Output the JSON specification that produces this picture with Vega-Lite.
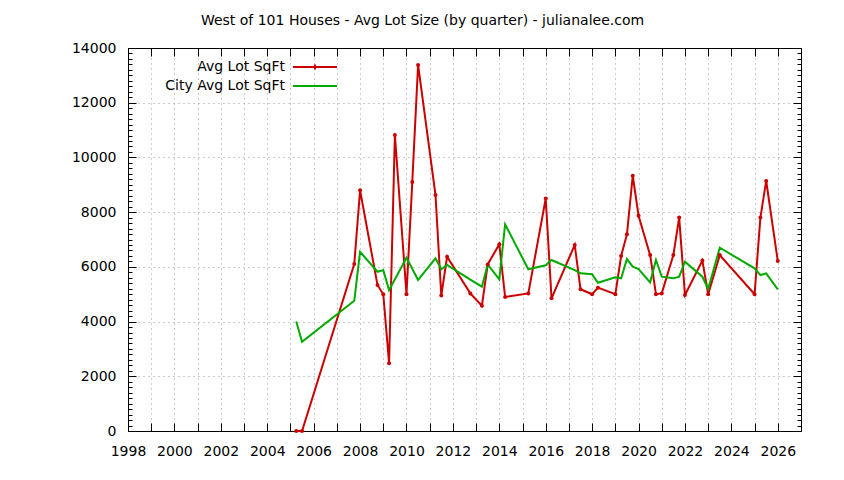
{
  "$schema": "https://vega.github.io/schema/vega-lite/v6.json",
  "width": 673,
  "height": 383,
  "autosize": {"type": "none"},
  "padding": {"left": 128, "top": 48, "right": 43, "bottom": 49},
  "background": "white",
  "title": {
    "text": "West of 101 Houses - Avg Lot Size (by quarter) - julianalee.com",
    "font": "DejaVu Sans",
    "fontSize": 14,
    "fontWeight": "normal",
    "color": "black",
    "anchor": "middle",
    "baseline": "alphabetic",
    "dx": -42,
    "offset": 2
  },
  "config": {
    "view": {"stroke": null},
    "font": "DejaVu Sans",
    "axis": {
      "labelFont": "DejaVu Sans",
      "labelFontSize": 14,
      "labelColor": "black",
      "domainColor": "black",
      "domainWidth": 1,
      "tickColor": "black",
      "tickWidth": 1,
      "gridColor": "#999999",
      "gridDash": [1, 4],
      "gridWidth": 1,
      "title": null,
      "labelOverlap": false,
      "labelFlush": false
    }
  },
  "data": {
    "values": [
      {"t": 2005.25, "series": "Avg Lot SqFt", "v": 0},
      {"t": 2005.5, "series": "Avg Lot SqFt", "v": 0},
      {"t": 2007.75, "series": "Avg Lot SqFt", "v": 6100},
      {"t": 2008, "series": "Avg Lot SqFt", "v": 8800},
      {"t": 2008.75, "series": "Avg Lot SqFt", "v": 5340},
      {"t": 2009, "series": "Avg Lot SqFt", "v": 5000},
      {"t": 2009.25, "series": "Avg Lot SqFt", "v": 2480},
      {"t": 2009.5, "series": "Avg Lot SqFt", "v": 10820},
      {"t": 2010, "series": "Avg Lot SqFt", "v": 5000},
      {"t": 2010.25, "series": "Avg Lot SqFt", "v": 9100},
      {"t": 2010.5, "series": "Avg Lot SqFt", "v": 13380},
      {"t": 2011.25, "series": "Avg Lot SqFt", "v": 8630},
      {"t": 2011.5, "series": "Avg Lot SqFt", "v": 4950},
      {"t": 2011.75, "series": "Avg Lot SqFt", "v": 6370},
      {"t": 2012.75, "series": "Avg Lot SqFt", "v": 5030},
      {"t": 2013.25, "series": "Avg Lot SqFt", "v": 4580},
      {"t": 2013.5, "series": "Avg Lot SqFt", "v": 6090},
      {"t": 2014, "series": "Avg Lot SqFt", "v": 6830},
      {"t": 2014.25, "series": "Avg Lot SqFt", "v": 4900},
      {"t": 2015.25, "series": "Avg Lot SqFt", "v": 5030},
      {"t": 2016, "series": "Avg Lot SqFt", "v": 8500},
      {"t": 2016.25, "series": "Avg Lot SqFt", "v": 4850},
      {"t": 2017.25, "series": "Avg Lot SqFt", "v": 6800},
      {"t": 2017.5, "series": "Avg Lot SqFt", "v": 5180},
      {"t": 2018, "series": "Avg Lot SqFt", "v": 5000},
      {"t": 2018.25, "series": "Avg Lot SqFt", "v": 5240},
      {"t": 2019, "series": "Avg Lot SqFt", "v": 5000},
      {"t": 2019.25, "series": "Avg Lot SqFt", "v": 6400},
      {"t": 2019.5, "series": "Avg Lot SqFt", "v": 7190},
      {"t": 2019.75, "series": "Avg Lot SqFt", "v": 9330},
      {"t": 2020, "series": "Avg Lot SqFt", "v": 7870},
      {"t": 2020.5, "series": "Avg Lot SqFt", "v": 6430},
      {"t": 2020.75, "series": "Avg Lot SqFt", "v": 5000},
      {"t": 2021, "series": "Avg Lot SqFt", "v": 5030},
      {"t": 2021.5, "series": "Avg Lot SqFt", "v": 6430},
      {"t": 2021.75, "series": "Avg Lot SqFt", "v": 7800},
      {"t": 2022, "series": "Avg Lot SqFt", "v": 4970},
      {"t": 2022.75, "series": "Avg Lot SqFt", "v": 6230},
      {"t": 2023, "series": "Avg Lot SqFt", "v": 5000},
      {"t": 2023.5, "series": "Avg Lot SqFt", "v": 6430},
      {"t": 2025, "series": "Avg Lot SqFt", "v": 5000},
      {"t": 2025.25, "series": "Avg Lot SqFt", "v": 7800},
      {"t": 2025.5, "series": "Avg Lot SqFt", "v": 9140},
      {"t": 2026, "series": "Avg Lot SqFt", "v": 6210},
      {"t": 2005.25, "series": "City Avg Lot SqFt", "v": 4000},
      {"t": 2005.5, "series": "City Avg Lot SqFt", "v": 3260},
      {"t": 2007.75, "series": "City Avg Lot SqFt", "v": 4760},
      {"t": 2008, "series": "City Avg Lot SqFt", "v": 6550},
      {"t": 2008.75, "series": "City Avg Lot SqFt", "v": 5820},
      {"t": 2009, "series": "City Avg Lot SqFt", "v": 5880},
      {"t": 2009.25, "series": "City Avg Lot SqFt", "v": 5150},
      {"t": 2010, "series": "City Avg Lot SqFt", "v": 6335},
      {"t": 2010.5, "series": "City Avg Lot SqFt", "v": 5520},
      {"t": 2011.25, "series": "City Avg Lot SqFt", "v": 6310},
      {"t": 2011.5, "series": "City Avg Lot SqFt", "v": 5910},
      {"t": 2011.75, "series": "City Avg Lot SqFt", "v": 6070},
      {"t": 2012.75, "series": "City Avg Lot SqFt", "v": 5530},
      {"t": 2013.25, "series": "City Avg Lot SqFt", "v": 5275},
      {"t": 2013.5, "series": "City Avg Lot SqFt", "v": 6090},
      {"t": 2014, "series": "City Avg Lot SqFt", "v": 5545},
      {"t": 2014.25, "series": "City Avg Lot SqFt", "v": 7555},
      {"t": 2015.25, "series": "City Avg Lot SqFt", "v": 5910},
      {"t": 2016, "series": "City Avg Lot SqFt", "v": 6056},
      {"t": 2016.25, "series": "City Avg Lot SqFt", "v": 6250},
      {"t": 2017.25, "series": "City Avg Lot SqFt", "v": 5884},
      {"t": 2017.5, "series": "City Avg Lot SqFt", "v": 5763},
      {"t": 2018, "series": "City Avg Lot SqFt", "v": 5727},
      {"t": 2018.25, "series": "City Avg Lot SqFt", "v": 5420},
      {"t": 2019, "series": "City Avg Lot SqFt", "v": 5617},
      {"t": 2019.25, "series": "City Avg Lot SqFt", "v": 5580},
      {"t": 2019.5, "series": "City Avg Lot SqFt", "v": 6286},
      {"t": 2019.75, "series": "City Avg Lot SqFt", "v": 6006},
      {"t": 2020, "series": "City Avg Lot SqFt", "v": 5921},
      {"t": 2020.5, "series": "City Avg Lot SqFt", "v": 5434},
      {"t": 2020.75, "series": "City Avg Lot SqFt", "v": 6250},
      {"t": 2021, "series": "City Avg Lot SqFt", "v": 5640},
      {"t": 2021.5, "series": "City Avg Lot SqFt", "v": 5580},
      {"t": 2021.75, "series": "City Avg Lot SqFt", "v": 5640},
      {"t": 2022, "series": "City Avg Lot SqFt", "v": 6189},
      {"t": 2022.75, "series": "City Avg Lot SqFt", "v": 5640},
      {"t": 2023, "series": "City Avg Lot SqFt", "v": 5190},
      {"t": 2023.5, "series": "City Avg Lot SqFt", "v": 6700},
      {"t": 2025, "series": "City Avg Lot SqFt", "v": 5946},
      {"t": 2025.25, "series": "City Avg Lot SqFt", "v": 5700},
      {"t": 2025.5, "series": "City Avg Lot SqFt", "v": 5763},
      {"t": 2026, "series": "City Avg Lot SqFt", "v": 5180}
    ]
  },
  "resolve": {"axis": {"x": "independent", "y": "independent"}},
  "layer": [
    {
      "mark": {"type": "line", "strokeWidth": 2, "strokeJoin": "miter"},
      "encoding": {
        "x": {
          "field": "t",
          "type": "quantitative",
          "scale": {"domain": [1998, 2027], "nice": false, "zero": false},
          "axis": {
            "orient": "bottom",
            "values": [1998, 1999, 2000, 2001, 2002, 2003, 2004, 2005, 2006, 2007, 2008, 2009, 2010, 2011, 2012, 2013, 2014, 2015, 2016, 2017, 2018, 2019, 2020, 2021, 2022, 2023, 2024, 2025, 2026],
            "format": "d",
            "labelExpr": "datum.value % 2 === 0 ? datum.label : ''",
            "tickSize": -8,
            "labelPadding": 21,
            "grid": true
          }
        },
        "y": {
          "field": "v",
          "type": "quantitative",
          "scale": {"domain": [0, 14000], "nice": false},
          "axis": {
            "orient": "left",
            "values": [0, 200, 400, 600, 800, 1000, 1200, 1400, 1600, 1800, 2000, 2200, 2400, 2600, 2800, 3000, 3200, 3400, 3600, 3800, 4000, 4200, 4400, 4600, 4800, 5000, 5200, 5400, 5600, 5800, 6000, 6200, 6400, 6600, 6800, 7000, 7200, 7400, 7600, 7800, 8000, 8200, 8400, 8600, 8800, 9000, 9200, 9400, 9600, 9800, 10000, 10200, 10400, 10600, 10800, 11000, 11200, 11400, 11600, 11800, 12000, 12200, 12400, 12600, 12800, 13000, 13200, 13400, 13600, 13800, 14000],
            "format": "d",
            "labelExpr": "datum.value % 2000 === 0 ? datum.label : ''",
            "tickSize": {"condition": {"test": "datum.value % 2000 === 0", "value": -8}, "value": -4},
            "labelPadding": 20,
            "grid": true,
            "gridOpacity": {"condition": {"test": "datum.value % 2000 === 0", "value": 1}, "value": 0}
          }
        },
        "color": {
          "field": "series",
          "type": "nominal",
          "scale": {"domain": ["Avg Lot SqFt", "City Avg Lot SqFt"], "range": ["#cc0000", "#00aa00"]},
          "legend": {
            "orient": "none",
            "legendX": 180,
            "legendY": 12,
            "title": null,
            "padding": 0,
            "symbolType": "M-4.4,0L4.4,0",
            "symbolSize": 100,
            "symbolStrokeWidth": 2,
            "labelAlign": "right",
            "labelOffset": -37,
            "labelFont": "DejaVu Sans",
            "labelFontSize": 14,
            "labelColor": "black",
            "rowPadding": 5,
            "encode": {
              "symbols": {
                "update": {
                  "shape": {"signal": "datum.value === 'Avg Lot SqFt' ? 'M-4.4,0L4.4,0M0,-0.5L0,0.5M-0.5,0L0.5,0' : 'M-4.4,0L4.4,0'"}
                }
              }
            }
          }
        }
      }
    },
    {
      "transform": [{"filter": "datum.series === 'Avg Lot SqFt'"}],
      "mark": {"type": "point", "filled": true, "size": 16, "color": "#cc0000", "opacity": 1},
      "encoding": {
        "x": {
          "field": "t",
          "type": "quantitative",
          "scale": {"domain": [1998, 2027], "nice": false, "zero": false},
          "axis": {
            "orient": "top",
            "values": [1998, 1999, 2000, 2001, 2002, 2003, 2004, 2005, 2006, 2007, 2008, 2009, 2010, 2011, 2012, 2013, 2014, 2015, 2016, 2017, 2018, 2019, 2020, 2021, 2022, 2023, 2024, 2025, 2026],
            "labels": false,
            "tickSize": -8,
            "grid": false
          }
        },
        "y": {
          "field": "v",
          "type": "quantitative",
          "scale": {"domain": [0, 14000], "nice": false},
          "axis": {
            "orient": "right",
            "values": [0, 200, 400, 600, 800, 1000, 1200, 1400, 1600, 1800, 2000, 2200, 2400, 2600, 2800, 3000, 3200, 3400, 3600, 3800, 4000, 4200, 4400, 4600, 4800, 5000, 5200, 5400, 5600, 5800, 6000, 6200, 6400, 6600, 6800, 7000, 7200, 7400, 7600, 7800, 8000, 8200, 8400, 8600, 8800, 9000, 9200, 9400, 9600, 9800, 10000, 10200, 10400, 10600, 10800, 11000, 11200, 11400, 11600, 11800, 12000, 12200, 12400, 12600, 12800, 13000, 13200, 13400, 13600, 13800, 14000],
            "labels": false,
            "tickSize": {"condition": {"test": "datum.value % 2000 === 0", "value": -8}, "value": -4},
            "grid": false
          }
        }
      }
    }
  ]
}
